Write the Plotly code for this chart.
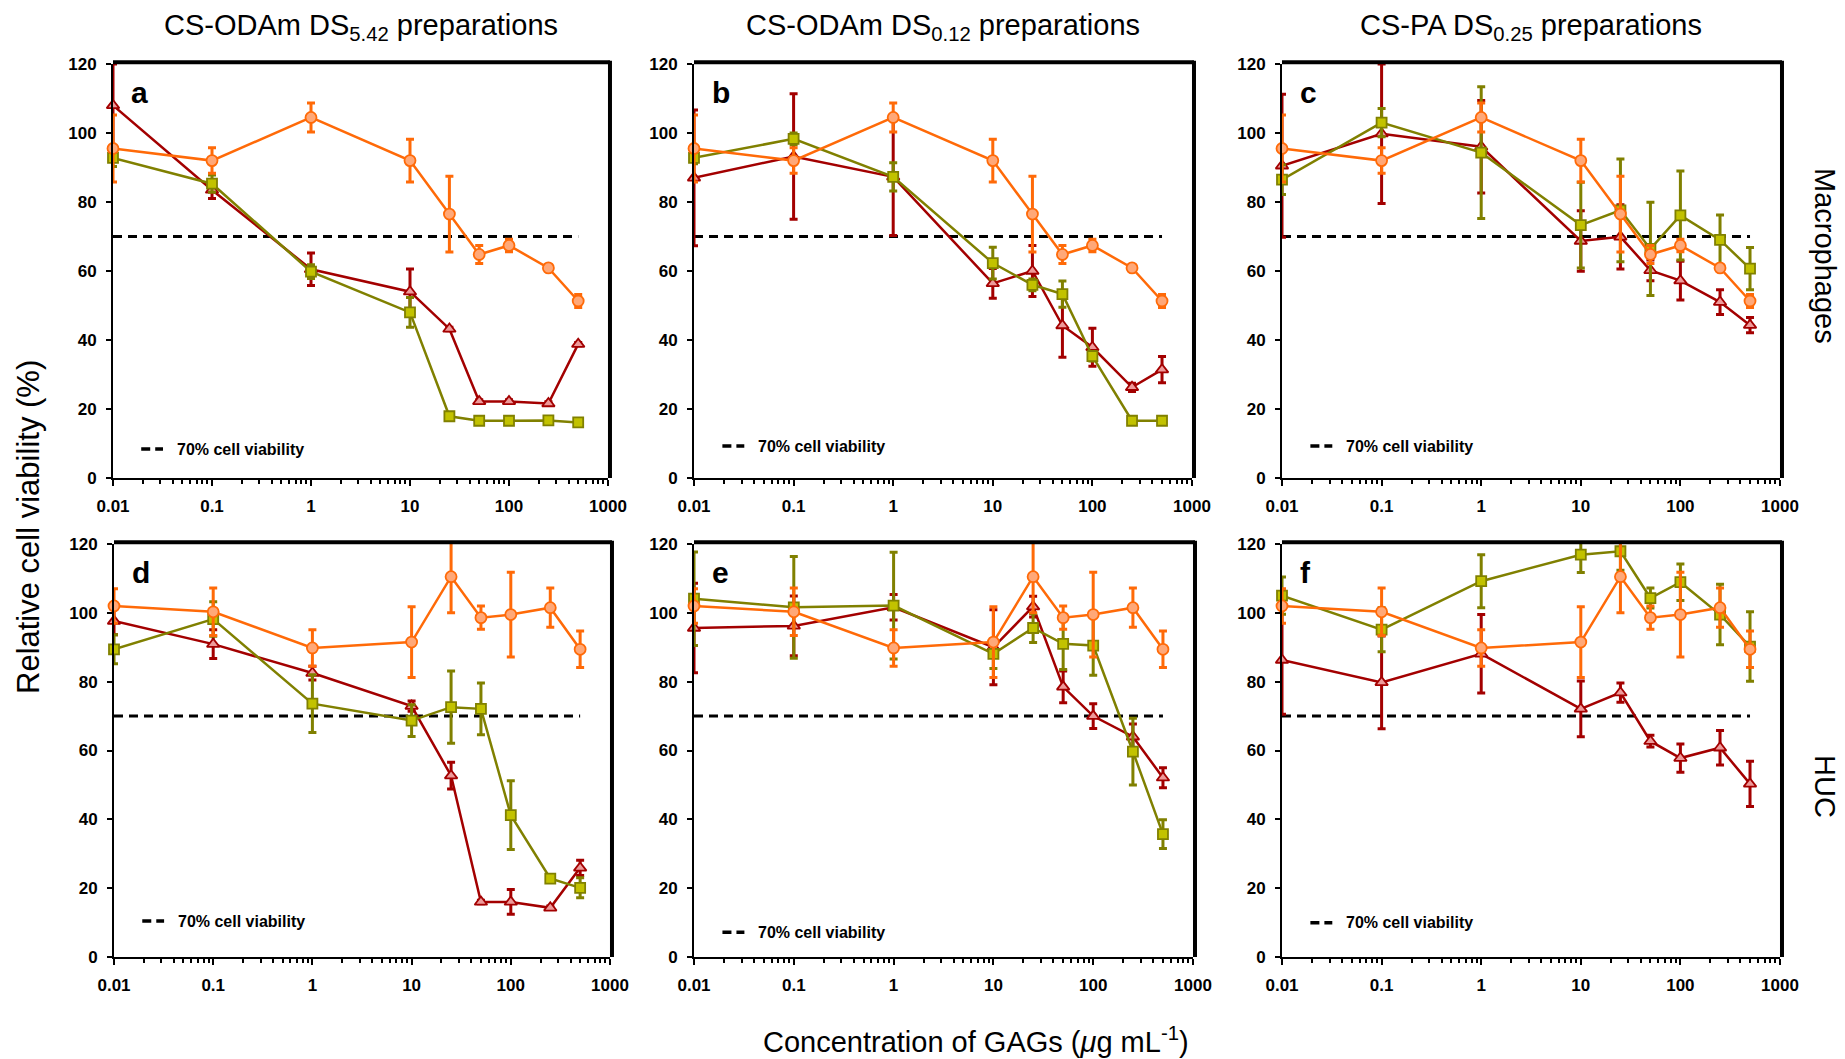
import plotly.graph_objects as go

# ---------------- data ----------------
conc = [0.01, 0.1, 1, 10, 25, 50, 100, 250, 500]
threshold = 70

x_tickvals = [0.01, 0.1, 1, 10, 100, 1000]
x_ticktext = ["0.01", "0.1", "1", "10", "100", "1000"]
y_tickvals = [0, 20, 40, 60, 80, 100, 120]
y_ticktext = ["0", "20", "40", "60", "80", "100", "120"]

col_titles = ["CS-ODAm DS<sub>5.42</sub> preparations",
              "CS-ODAm DS<sub>0.12</sub> preparations",
              "CS-PA DS<sub>0.25</sub> preparations"]
row_titles = ["Macrophages", "HUC"]
panel_letters = ["a", "b", "c", "d", "e", "f"]
legend_label = "70% cell viability"

# orange (circles) - same reference series within each cell type
orange_mac = [95.5, 92.0, 104.5, 92.0, 76.5, 64.8, 67.4, 60.9, 51.3]
orange_mac_err = [9.7, 3.7, 4.2, 6.2, 11.0, 2.6, 1.8, 0.8, 1.9]
orange_huc = [102.0, 100.3, 89.8, 91.5, 110.5, 98.6, 99.5, 101.5, 89.4]
orange_huc_err = [5.0, 6.9, 5.3, 10.3, 10.5, 3.4, 12.3, 5.7, 5.3]

# panel a
red_a = [108.0, 83.5, 60.5, 54.0, 43.2, 22.2, 22.2, 21.6, 38.8]
red_a_err = [12.0, 2.5, 4.7, 6.6, 0.5, 0.5, 0.5, 0.5, 0.5]
green_a = [92.8, 85.3, 59.8, 48.0, 17.9, 16.6, 16.6, 16.7, 16.1]
green_a_err = [2.5, 2.5, 2.0, 4.3, 0.5, 0.5, 0.5, 0.5, 0.5]
# panel b
red_b = [87.0, 93.2, 87.3, 56.4, 60.0, 44.2, 37.9, 26.3, 31.4]
red_b_err = [19.7, 18.2, 17.0, 4.3, 7.4, 9.2, 5.5, 1.2, 3.8]
green_b = [92.8, 98.3, 87.3, 62.3, 56.0, 53.3, 35.3, 16.6, 16.6]
green_b_err = [1.7, 1.7, 4.1, 4.6, 1.7, 3.8, 1.4, 0.5, 0.5]
# panel c
red_c = [90.5, 99.8, 96.0, 68.7, 69.9, 60.2, 57.2, 51.0, 44.3]
red_c_err = [20.7, 20.2, 13.4, 8.8, 9.3, 3.0, 5.6, 3.6, 2.2]
green_c = [86.5, 103.0, 94.3, 73.3, 77.6, 66.4, 76.1, 69.0, 60.7]
green_c_err = [4.3, 4.1, 19.1, 12.4, 14.9, 13.5, 12.9, 7.2, 6.1]
# panel d
red_d = [97.6, 90.9, 82.5, 72.9, 52.7, 16.0, 16.0, 14.3, 25.9]
red_d_err = [4.0, 4.2, 2.0, 1.5, 3.9, 0.5, 3.6, 0.5, 2.2]
green_d = [89.4, 98.2, 73.6, 68.7, 72.6, 72.1, 41.2, 22.8, 20.1]
green_d_err = [4.2, 5.0, 8.4, 4.6, 10.5, 7.5, 10.0, 0.5, 2.9]
# panel e
red_e = [95.6, 96.2, 101.6, 90.0, 101.8, 78.5, 70.0, 64.0, 52.1]
red_e_err = [13.0, 8.7, 3.7, 10.9, 3.0, 4.6, 3.6, 3.7, 2.9]
green_e = [104.1, 101.6, 102.1, 88.1, 95.6, 91.0, 90.5, 59.7, 35.7]
green_e_err = [13.6, 14.8, 15.5, 4.3, 4.2, 7.5, 8.6, 9.7, 4.2]
# panel f
red_f = [86.3, 79.8, 88.1, 72.1, 76.8, 62.7, 57.8, 60.8, 50.3]
red_f_err = [15.8, 13.5, 11.4, 8.1, 2.8, 1.7, 4.1, 5.0, 6.6]
green_f = [105.0, 95.1, 109.2, 116.9, 117.9, 104.3, 108.9, 99.5, 90.2]
green_f_err = [5.4, 6.4, 7.7, 5.2, 5.5, 2.9, 5.3, 8.8, 10.1]

panel_data = [
    (red_a, red_a_err, green_a, green_a_err, orange_mac, orange_mac_err),
    (red_b, red_b_err, green_b, green_b_err, orange_mac, orange_mac_err),
    (red_c, red_c_err, green_c, green_c_err, orange_mac, orange_mac_err),
    (red_d, red_d_err, green_d, green_d_err, orange_huc, orange_huc_err),
    (red_e, red_e_err, green_e, green_e_err, orange_huc, orange_huc_err),
    (red_f, red_f_err, green_f, green_f_err, orange_huc, orange_huc_err),
]

# ---------------- layout geometry (pixels) ----------------
W, H = 1845, 1059
cols_px = [[(113, 608), (694, 1192), (1282, 1780)],
           [(114, 610), (694, 1193), (1282, 1780)]]
rows_px = [(64, 478), (544, 957)]
legend_y = [0.07, 0.077, 0.077, 0.087, 0.06, 0.083]

FONT = "Liberation Sans, Arial, Helvetica, sans-serif"
RED, RED_FILL = "#A30000", "#EE9A9A"
GREEN, GREEN_FILL = "#808000", "#C2C200"
ORANGE, ORANGE_FILL = "#FF6A08", "#FFA878"

minor_vals = [m * 10 ** e for e in range(-2, 3) for m in range(2, 10)]

fig = go.Figure()
layout = dict(width=W, height=H, margin=dict(l=0, r=0, t=0, b=0, pad=0, autoexpand=False),
              paper_bgcolor="white", plot_bgcolor="white",
              showlegend=False, font=dict(family=FONT, color="black"))
annotations = []
shapes = []


def series(xa, ya, y, err, color, fill, symbol, size):
    return go.Scatter(
        x=conc, y=y, xaxis=xa, yaxis=ya, mode="lines+markers",
        line=dict(color=color, width=2.5),
        marker=dict(symbol=symbol, size=size, color=fill,
                    line=dict(color=color, width=1.8)),
        error_y=dict(type="data", array=err, visible=True,
                     color=color, thickness=3, width=4),
        cliponaxis=False)


for i, (red, red_err, green, green_err, org, org_err) in enumerate(panel_data):
    r, c = divmod(i, 3)
    k = i + 1
    xa = "x" if k == 1 else f"x{k}"
    ya = "y" if k == 1 else f"y{k}"
    xkey = "xaxis" if k == 1 else f"xaxis{k}"
    ykey = "yaxis" if k == 1 else f"yaxis{k}"
    x0, x1 = cols_px[r][c]
    yt, yb = rows_px[r]

    layout[xkey] = dict(
        domain=[x0 / W, x1 / W], anchor=ya, type="log", range=[-2, 3],
        automargin=False,
        tickmode="array", tickvals=x_tickvals, ticktext=x_ticktext,
        ticks="outside", ticklen=6, tickwidth=2, tickcolor="black",
        showline=True, linewidth=2, linecolor="black",
        showgrid=False, zeroline=False, ticklabelstandoff=6,
        tickfont=dict(family=FONT, size=17, color="black", weight="bold"),
        minor=dict(tickmode="array", tickvals=minor_vals, ticks="outside",
                   ticklen=4, tickwidth=1.5, tickcolor="black", showgrid=False))
    layout[ykey] = dict(
        domain=[1 - yb / H, 1 - yt / H], anchor=xa, range=[0, 120],
        automargin=False,
        tickmode="array", tickvals=y_tickvals, ticktext=y_ticktext,
        ticks="outside", ticklen=5, tickwidth=2, tickcolor="black",
        showline=True, linewidth=2, linecolor="black",
        showgrid=False, zeroline=False, ticklabelstandoff=6,
        tickfont=dict(family=FONT, size=17, color="black", weight="bold"))

    # 70 % threshold line
    fig.add_trace(go.Scatter(
        x=[conc[0], conc[-1]], y=[threshold, threshold], xaxis=xa, yaxis=ya,
        mode="lines", line=dict(color="black", width=3, dash="9px,6px"),
        hoverinfo="skip"))
    fig.add_trace(series(xa, ya, red, red_err, RED, RED_FILL, "triangle-up", 11))
    fig.add_trace(series(xa, ya, green, green_err, GREEN, GREEN_FILL, "square", 10))
    fig.add_trace(series(xa, ya, org, org_err, ORANGE, ORANGE_FILL, "circle", 11))

    # thick top/right frame
    shapes.append(dict(type="line", xref=f"{xa} domain", yref=f"{ya} domain",
                       x0=0, x1=1.004, y0=1.004, y1=1.004,
                       line=dict(color="black", width=4)))
    shapes.append(dict(type="line", xref=f"{xa} domain", yref=f"{ya} domain",
                       x0=1.004, x1=1.004, y0=0, y1=1.008,
                       line=dict(color="black", width=4)))
    # legend sample
    shapes.append(dict(type="line", xref=f"{xa} domain", yref=f"{ya} domain",
                       x0=0.057, x1=0.101, y0=legend_y[i], y1=legend_y[i],
                       line=dict(color="black", width=3.5, dash="9px,5px")))
    annotations.append(dict(xref=f"{xa} domain", yref=f"{ya} domain",
                            x=0.125, y=legend_y[i], xanchor="left", yanchor="middle",
                            text=legend_label, showarrow=False,
                            font=dict(family=FONT, size=16, color="black", weight="bold")))
    # panel letter
    annotations.append(dict(xref=f"{xa} domain", yref=f"{ya} domain",
                            x=0.032, y=0.93, xanchor="left", yanchor="middle",
                            text=f"<b>{panel_letters[i]}</b>", showarrow=False,
                            font=dict(family=FONT, size=30, color="black")))

# column titles
for c in range(3):
    x0, x1 = cols_px[0][c]
    annotations.append(dict(xref="paper", yref="paper", x=(x0 + x1) / 2 / W,
                            y=1 - 27 / H, xanchor="center", yanchor="middle",
                            text=col_titles[c], showarrow=False,
                            font=dict(family=FONT, size=29, color="black")))
# row titles
for r, yc in enumerate([256, 786]):
    annotations.append(dict(xref="paper", yref="paper", x=1825 / W, y=1 - yc / H,
                            xanchor="center", yanchor="middle", textangle=90,
                            text=row_titles[r], showarrow=False,
                            font=dict(family=FONT, size=29, color="black")))
# axis titles
annotations.append(dict(xref="paper", yref="paper", x=29 / W, y=1 - 527 / H,
                        xanchor="center", yanchor="middle", textangle=-90,
                        text="Relative cell viability (%)", showarrow=False,
                        font=dict(family=FONT, size=31, color="black")))
annotations.append(dict(xref="paper", yref="paper", x=976 / W, y=1 - 1040 / H,
                        xanchor="center", yanchor="middle",
                        text="Concentration of GAGs (<i>μ</i>g mL<sup>-1</sup>)",
                        showarrow=False,
                        font=dict(family=FONT, size=29, color="black")))

layout["annotations"] = annotations
layout["shapes"] = shapes
fig.update_layout(**layout)
fig.write_html(
    "out.html",
    config={"displayModeBar": False},
    post_script="document.body.style.margin='0';document.body.style.padding='0';"
                "document.body.style.overflow='hidden';")
